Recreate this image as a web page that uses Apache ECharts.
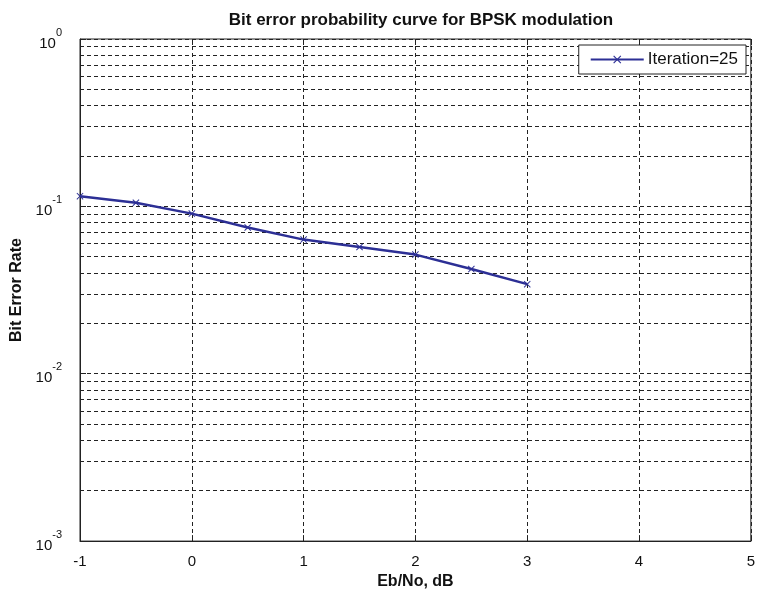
<!DOCTYPE html>
<html>
<head>
<meta charset="utf-8">
<script src="https://cdn.jsdelivr.net/npm/echarts@6/dist/echarts.min.js"></script>
<style>
  html, body { margin: 0; padding: 0; background: #fff; }
  #chart { width: 758px; height: 595px; }
</style>
</head>
<body>
<div id="chart"></div>
<script>
// Eb/No points (dB) and measured BER
var snrDb = [-1, -0.5, 0, 0.5, 1, 1.5, 2, 2.5, 3];
var berValues = [0.1151, 0.1052, 0.0905, 0.0747, 0.0633, 0.0572, 0.0515, 0.0422, 0.0343];

// minor grid lines of the log axis (2..9 in each decade)
var decades = [0.001, 0.01, 0.1];
var minorSteps = [2, 3, 4, 5, 6, 7, 8, 9];

var xTicks = [-1, 0, 1, 2, 3, 4, 5];

var chartDom = document.getElementById('chart');
var myChart = echarts.init(chartDom);
var option;

var lineColor = '#2c2f95';
var font = 'Liberation Sans';
var xMin = xTicks[0];
var xMax = xTicks[xTicks.length - 1];

var minorLines = [];
decades.forEach(function (d) {
  minorSteps.forEach(function (m) {
    var v = +(d * m).toPrecision(3);
    minorLines.push([{ coord: [xMin, v] }, { coord: [xMax, v] }]);
  });
});

var xSymbol = 'path://M0,1L1,0L5,4L9,0L10,1L6,5L10,9L9,10L5,6L1,10L0,9L4,5Z';

option = {
  animation: false,
  backgroundColor: '#fff',
  textStyle: { fontFamily: font },
  title: {
    text: 'Bit error probability curve for BPSK modulation',
    left: 416,
    textAlign: 'center',
    top: 7,
    textStyle: { fontSize: 17, fontWeight: 'bold', color: '#111', fontFamily: font }
  },
  legend: {
    right: 12,
    top: 45,
    itemWidth: 53,
    itemHeight: 10,
    itemGap: 4,
    padding: [6, 8, 6, 11],
    borderColor: '#222',
    borderWidth: 1,
    backgroundColor: '#fff',
    textStyle: { fontSize: 17, color: '#111', fontFamily: font, padding: [0, 0, 0, -1] },
    data: ['Iteration=25']
  },
  grid: {
    left: 80,
    right: 3,
    top: 39,
    bottom: 53,
    show: true,
    borderColor: '#222',
    borderWidth: 1
  },
  xAxis: [
    {
      type: 'value',
      min: xMin,
      max: xMax,
      interval: 1,
      name: 'Eb/No, dB',
      nameLocation: 'middle',
      nameGap: 29,
      nameTextStyle: { fontSize: 16, fontWeight: 'bold', color: '#111', fontFamily: font },
      axisLine: { onZero: false, lineStyle: { color: '#222', width: 1 } },
      axisTick: { inside: true, length: 6, lineStyle: { color: '#222' } },
      axisLabel: { fontSize: 15, color: '#111', margin: 13 },
      splitLine: { show: true, lineStyle: { color: '#222', type: [4, 3], width: 1 } }
    },
    {
      type: 'value',
      position: 'top',
      min: xMin,
      max: xMax,
      interval: 1,
      axisLine: { show: false, onZero: false },
      axisTick: { inside: true, length: 6, lineStyle: { color: '#222' } },
      axisLabel: { show: false },
      splitLine: { show: false }
    }
  ],
  yAxis: [
    {
      type: 'log',
      logBase: 10,
      min: 0.001,
      max: 1,
      name: 'Bit Error Rate',
      nameLocation: 'middle',
      nameGap: 50,
      nameTextStyle: { fontSize: 16, fontWeight: 'bold', color: '#111', fontFamily: font },
      axisLine: { show: true, onZero: false, lineStyle: { color: '#222', width: 1 } },
      axisTick: { inside: true, length: 6, lineStyle: { color: '#222' } },
      axisLabel: {
        margin: 18,
        formatter: function (v) {
          return '{b|10}{s|' + Math.round(Math.log10(v)) + '}';
        },
        rich: {
          b: { fontSize: 15, color: '#111', fontFamily: font, verticalAlign: 'bottom', lineHeight: 24 },
          s: { fontSize: 11, color: '#111', fontFamily: font, verticalAlign: 'top', lineHeight: 24 }
        }
      },
      splitLine: { show: true, lineStyle: { color: '#222', type: [4, 3], width: 1 } }
    },
    {
      type: 'log',
      logBase: 10,
      min: 0.001,
      max: 1,
      position: 'right',
      axisLine: { show: false, onZero: false },
      axisTick: { inside: true, length: 6, lineStyle: { color: '#222' } },
      axisLabel: { show: false },
      splitLine: { show: false }
    }
  ],
  series: [
    {
      name: 'Iteration=25',
      type: 'line',
      data: snrDb.map(function (x, i) { return [x, berValues[i]]; }),
      color: lineColor,
      lineStyle: { color: lineColor, width: 2.5 },
      symbol: xSymbol,
      symbolSize: 7,
      showAllSymbol: true,
      itemStyle: { color: lineColor },
      z: 5,
      markLine: {
        silent: true,
        symbol: 'none',
        label: { show: false },
        lineStyle: { color: '#222', type: [4, 3], width: 1 },
        data: minorLines,
        z: 1
      }
    }
  ]
};

option && myChart.setOption(option);
</script>
</body>
</html>
